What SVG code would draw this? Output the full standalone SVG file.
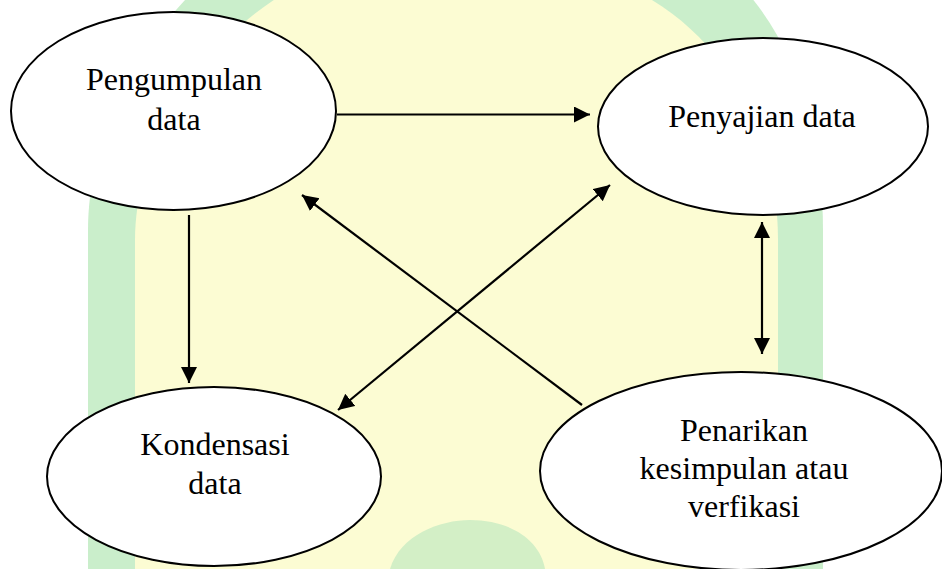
<svg xmlns="http://www.w3.org/2000/svg" width="942" height="569" viewBox="0 0 942 569">
<style>
.node ellipse{fill:#ffffff;stroke:#000000;stroke-width:2}
.node text{font-family:"Liberation Serif","DejaVu Serif","Times New Roman",serif;font-size:32px;fill:#000000;text-anchor:middle}
.conn line{stroke:#000000;stroke-width:2.2;fill:none}
</style>
<defs>
<marker id="ah" markerUnits="userSpaceOnUse" markerWidth="18" markerHeight="18" refX="16" refY="8" orient="auto-start-reverse" viewBox="0 0 18 18">
<path d="M0,0 L16,8 L0,16 Z" fill="#000000"/>
</marker>
</defs>
<g id="watermark">
<rect x="0" y="0" width="942" height="569" fill="#ffffff"/>
<path d="M88 569 L88 230 C88 110 170 -10 260 -60 L680 -60 C780 -10 823 110 823 230 L823 569 Z" fill="#caeecb"/>
<path d="M135 569 L135 240 C135 130 220 20 310 -20 L610 -20 C720 20 778 130 778 240 L778 569 Z" fill="#fcfcd3"/>
<path d="M390 569 C400 535 440 520 470 520 C510 520 540 540 545 569 Z" fill="#d3efc6"/>
</g>
<g id="connectors" class="conn">
<line x1="337" y1="114.5" x2="590" y2="114.5" marker-end="url(#ah)"/>
<line x1="189" y1="215" x2="189" y2="383" marker-end="url(#ah)"/>
<line x1="582" y1="405" x2="302" y2="195" marker-end="url(#ah)"/>
<line x1="338" y1="410" x2="610" y2="185" marker-start="url(#ah)" marker-end="url(#ah)"/>
<line x1="762" y1="222" x2="762" y2="354" marker-start="url(#ah)" marker-end="url(#ah)"/>
</g>
<g id="pengumpulan" class="node">
<ellipse cx="173.5" cy="111" rx="162.5" ry="99"/>
<text x="174" y="90" font-family="Liberation Serif, DejaVu Serif, serif">Pengumpulan</text>
<text x="174" y="130" font-family="Liberation Serif, DejaVu Serif, serif">data</text>
</g>
<g id="penyajian" class="node">
<ellipse cx="763" cy="126.5" rx="165" ry="88.5"/>
<text x="762" y="127" font-family="Liberation Serif, DejaVu Serif, serif">Penyajian data</text>
</g>
<g id="kondensasi" class="node">
<ellipse cx="214" cy="476.5" rx="167" ry="89.5"/>
<text x="215" y="455" font-family="Liberation Serif, DejaVu Serif, serif">Kondensasi</text>
<text x="215" y="494" font-family="Liberation Serif, DejaVu Serif, serif">data</text>
</g>
<g id="penarikan" class="node">
<ellipse cx="741" cy="471" rx="201" ry="99"/>
<text x="744" y="441" font-family="Liberation Serif, DejaVu Serif, serif">Penarikan</text>
<text x="744" y="479" font-family="Liberation Serif, DejaVu Serif, serif">kesimpulan atau</text>
<text x="744" y="517" font-family="Liberation Serif, DejaVu Serif, serif">verfikasi</text>
</g>
</svg>
